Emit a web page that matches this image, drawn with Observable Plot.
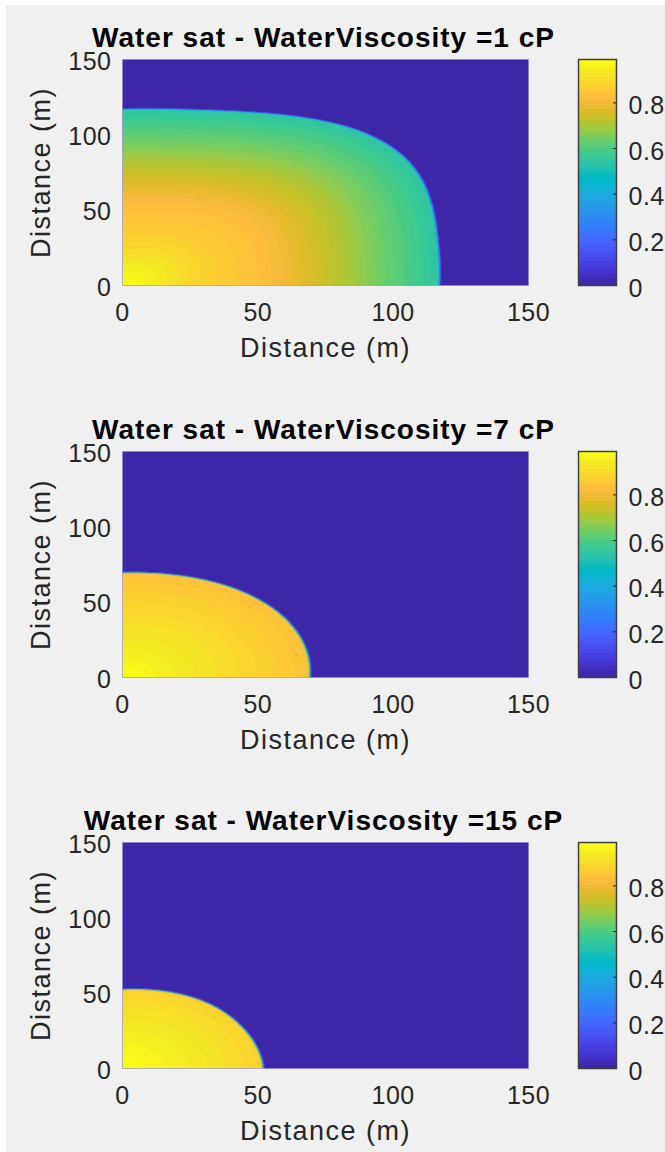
<!DOCTYPE html>
<html><head><meta charset="utf-8">
<script src="https://cdn.jsdelivr.net/npm/d3@7"></script>
<script src="https://cdn.jsdelivr.net/npm/@observablehq/plot@0.6"></script>
<style>
html,body{margin:0;padding:0;background:#fff;}
#page{position:absolute;left:6px;top:5px;width:659px;height:1147px;background:#f0f0f0;}
.abs{position:absolute;}
.title{position:absolute;left:0;width:647px;text-align:center;font-weight:bold;font-size:28px;line-height:18px;
  font-family:"Liberation Sans",Arial,sans-serif;color:#000;white-space:nowrap;letter-spacing:1px;}
.heat [aria-label="x-axis label"] text, .heat [aria-label="y-axis label"] text{letter-spacing:1.5px;}
.heat [aria-label="x-axis tick label"] text, .heat [aria-label="y-axis tick label"] text,
.cbar [aria-label="y-axis tick label"] text{letter-spacing:0.5px;}
</style></head><body><div id="page"></div>
<script>
// ---- data ----
const viscosities = [1, 7, 15];
const axisTicks = [0, 50, 100, 150];
const colorbarTicks = [0, 0.2, 0.4, 0.6, 0.8];
const satMax = 0.99;          // top of the colour bar
const edgeWidth = 1.2;        // width (m) of the sharp drop at the water front

// distance (m) from the injector to the water front, at these angles (degrees from the x axis)
const frontAngles = [0, 10, 20, 30, 40, 50, 60, 70, 80, 90];
const front1R = [116.4, 117.7, 122, 129, 135.2, 135.2, 129, 122, 117.7, 116.5];
const front2R = [68.6, 69.3, 70.2, 71, 71.6, 71.7, 71.4, 70.6, 69.7, 69];
const front3R = [51.4, 51.0, 51.0, 51.3, 52.0, 52.9, 53.3, 53.2, 52.7, 51.9];

// saturation behind the front, by fraction of the distance to the front
const profileFrac = [0, 0.1, 0.2, 0.3, 0.45, 0.6, 0.7, 0.8, 0.9, 0.96, 1];
const sat1 = [0.99, 0.95, 0.9, 0.865, 0.83, 0.76, 0.71, 0.65, 0.6, 0.565, 0.54];
const sat2 = [0.99, 0.975, 0.955, 0.94, 0.92, 0.9, 0.885, 0.87, 0.855, 0.845, 0.84];
const sat3 = [0.99, 0.98, 0.97, 0.96, 0.945, 0.93, 0.92, 0.905, 0.895, 0.885, 0.875];

// ---- style ----
const parula = ["#3e26a8","#402ab4","#422ec0","#4332cb","#4537d5","#463cde","#4741e5","#4747eb","#484df0","#4852f4","#4758f8","#465efb","#4563fd","#4269fe","#3e6fff","#3875fe","#327cfc","#2f81fa","#2e87f7","#2d8cf3","#2b91ef","#2796eb","#259be8","#23a0e5","#20a5e3","#1ca9df","#18addb","#12b1d6","#08b5d0","#01b8ca","#02bac3","#0bbdbd","#19bfb6","#24c1ae","#2cc4a7","#31c69f","#37c897","#3fca8e","#4acb84","#57cc7a","#64cd6f","#72cd64","#81cc59","#8fcb4e","#9dc943","#abc739","#b9c431","#c5c22a","#d1bf27","#dcbd29","#e6bb2d","#f0ba36","#f8ba3d","#febe3c","#fec338","#fec934","#fccf30","#fad62d","#f7dc2a","#f5e327","#f5e924","#f6ef20","#f7f51b","#f9fb15"];
const thresholds = d3.range(1, parula.length).map(i => i * satMax / parula.length);
const colorScale = {type: "threshold", domain: thresholds, range: parula};
const FONT = '"Liberation Sans", Arial, sans-serif';
const plotTops = [59, 451, 842];
const titleBaselines = [48, 440, 831];

const panels = [
  {v: viscosities[0], r: front1R, sat: sat1},
  {v: viscosities[1], r: front2R, sat: sat2},
  {v: viscosities[2], r: front3R, sat: sat3}
];

function makeField(p) {
  const a0 = frontAngles[0] * Math.PI / 180, a1 = frontAngles[frontAngles.length - 1] * Math.PI / 180;
  const frontR = d3.interpolateBasis(p.r);
  const profile = d3.scaleLinear(profileFrac, p.sat).clamp(true);
  const edge = d3.scaleLinear([0, edgeWidth], [p.sat[p.sat.length - 1], 0]).clamp(true);
  return (x, y) => {
    const r = Math.hypot(x, y);
    const t = Math.max(0, Math.min(1, (Math.atan2(y, x) - a0) / (a1 - a0)));
    const R = frontR(t);
    return r <= R ? profile(r / R) : edge(r - R);
  };
}

const page = document.body;
panels.forEach((p, k) => {
  const top = plotTops[k];
  const t = document.createElement("div");
  t.className = "title";
  t.style.top = (titleBaselines[k] - 18.6) + "px";
  t.textContent = `Water sat - WaterViscosity =${p.v} cP`;
  page.appendChild(t);

  const heat = Plot.plot({
    className: "heat",
    width: 545, height: 330,
    marginLeft: 122, marginRight: 17, marginTop: 10, marginBottom: 94,
    style: {fontFamily: FONT, fontSize: "25px", color: "#262626", background: "transparent", overflow: "visible"},
    x: {domain: [0, 150]},
    y: {domain: [0, 150]},
    color: colorScale,
    marks: [
      Plot.raster({fill: makeField(p), x1: 0, x2: 150, y1: 0, y2: 150}),
      Plot.frame({stroke: "#8a82cc", strokeOpacity: 0.6}),
      Plot.axisX({ticks: axisTicks, tickSize: 0, tickPadding: 18, label: null}),
      Plot.axisY({ticks: axisTicks, tickSize: 0, tickPadding: 11, dy: 2, label: null}),
      Plot.axisX({ticks: [], tickSize: 0, label: "Distance (m)", labelAnchor: "center", labelArrow: false, labelOffset: 71, fontSize: 27}),
      Plot.axisY({ticks: [], tickSize: 0, label: "Distance (m)", labelAnchor: "center", labelArrow: false, labelOffset: 92, fontSize: 27})
    ]
  });
  heat.classList.add("abs");
  heat.style.left = "0px";
  heat.style.top = (top - 10) + "px";
  page.appendChild(heat);

  const cbar = Plot.plot({
    className: "cbar",
    width: 105, height: 256,
    marginLeft: 18, marginRight: 49, marginTop: 10, marginBottom: 20,
    style: {fontFamily: FONT, fontSize: "25px", color: "#262626", background: "transparent", overflow: "visible"},
    x: {domain: [0, 1], axis: null},
    y: {domain: [0, satMax], axis: null},
    color: colorScale,
    marks: [
      Plot.raster({fill: (x, y) => y, x1: 0, x2: 1, y1: 0, y2: satMax}),
      Plot.ruleY(colorbarTicks.slice(1), {x1: 0.92, x2: 1, stroke: "#262626"}),
      Plot.frame({stroke: "#404040", strokeWidth: 1.5}),
      Plot.axisY({anchor: "right", ticks: colorbarTicks, tickSize: 0, tickPadding: 12, dy: 3,
        tickFormat: d => d === 0 ? "0" : d.toFixed(1), label: null})
    ]
  });
  cbar.classList.add("abs");
  cbar.style.left = "560px";
  cbar.style.top = (top - 10) + "px";
  page.appendChild(cbar);
});
</script></body></html>
